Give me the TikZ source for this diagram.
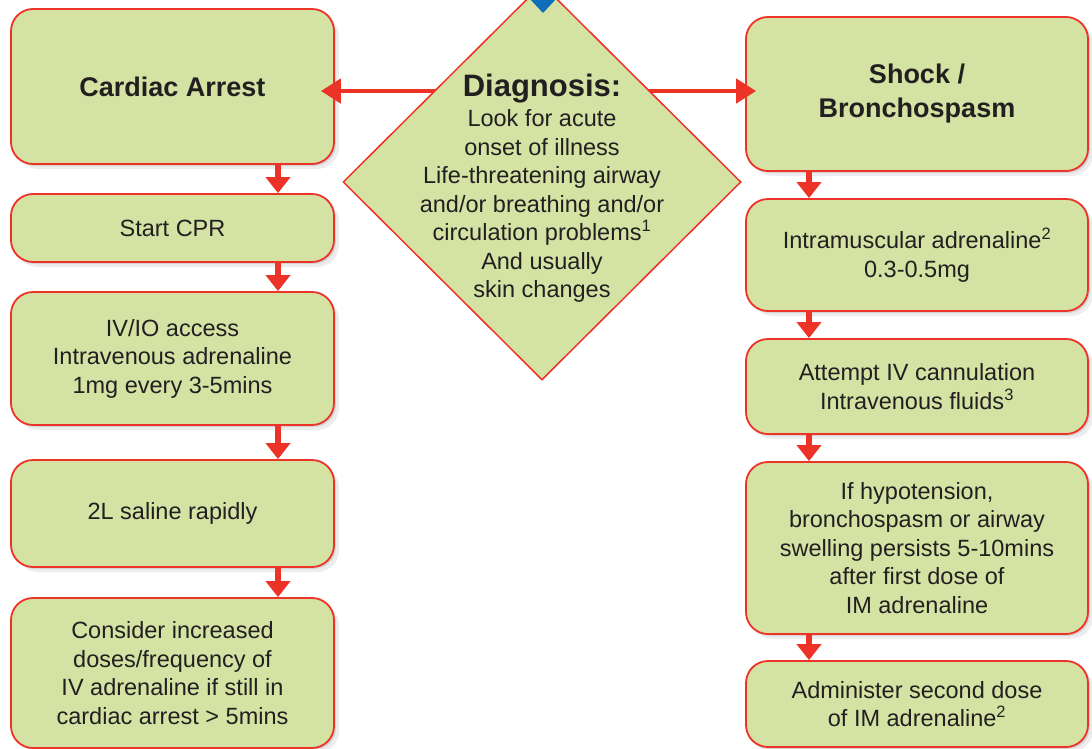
\documentclass[tikz,border=0pt]{standalone}
\usepackage{fontspec}
\setmainfont{Liberation Sans}
\usepackage{tikz}
\usetikzlibrary{shapes.geometric, arrows.meta, shadows}

\definecolor{boxgreen}{RGB}{212,227,164}
\definecolor{boxred}{RGB}{237,50,40}
\definecolor{textgray}{RGB}{35,31,32}
\definecolor{topblue}{RGB}{16,110,184}

\begin{document}
\begin{tikzpicture}[x=1pt, y=-1pt,
  greenbox/.style={draw=boxred, fill=boxgreen, line width=1.8pt,
    rounded corners=22pt, align=center, text=textgray, inner sep=0pt,
    font=\fontsize{23.5}{28.5}\selectfont,
    drop shadow={shadow xshift=2pt, shadow yshift=-2pt, opacity=0.22},
    drop shadow={shadow xshift=5pt, shadow yshift=-5pt, opacity=0.14}},
  leftbox/.style={greenbox, minimum width=323pt},
  rightbox/.style={greenbox, minimum width=342pt},
  headtext/.style={font=\fontsize{27}{34}\selectfont\bfseries},
  redarrow/.style={draw=boxred, line width=5.5pt,
    -{Triangle[length=16pt, width=24pt]}}
]
\clip (0,0) rectangle (1092,749);

% left column: cardiac arrest
\node[leftbox, minimum height=155pt, headtext] (cardiac) at (172.5,86.5) {Cardiac Arrest};
\node[leftbox, minimum height=68pt] (cpr) at (172.5,228) {Start CPR};
\node[leftbox, minimum height=133pt] (ivio) at (172.5,358.5)
  {IV/IO access\\ Intravenous adrenaline\\ 1mg every 3-5mins};
\node[leftbox, minimum height=107pt] (saline) at (172.5,513.5) {2L saline rapidly};
\node[leftbox, minimum height=150pt] (consider) at (172.5,673)
  {Consider increased\\ doses/frequency of\\ IV adrenaline if still in\\ cardiac arrest > 5mins};

% right column: shock
\node[rightbox, minimum height=154pt, headtext] (shock) at (917,94)
  {\raisebox{2pt}{Shock /}\\ \raisebox{2pt}{Bronchospasm}};
\node[rightbox, minimum height=112pt] (imadr) at (917,255)
  {Intramuscular adrenaline\textsuperscript{2}\\ 0.3-0.5mg};
\node[rightbox, minimum height=95pt] (ivcan) at (917,386.5)
  {Attempt IV cannulation\\ Intravenous fluids\textsuperscript{3}};
\node[rightbox, minimum height=172pt] (hypo) at (917,548)
  {If hypotension,\\ bronchospasm or airway\\ swelling persists 5-10mins\\ after first dose of\\ IM adrenaline};
\node[rightbox, minimum height=86pt] (second) at (917,704)
  {Administer second dose\\ of IM adrenaline\textsuperscript{2}};

% downward arrows
\coordinate (leftx) at (278,0);
\coordinate (rightx) at (809,0);
\foreach \a/\b in {cardiac/cpr, cpr/ivio, ivio/saline, saline/consider}
  \draw[redarrow] (\a.south -| leftx) -- (\b.north -| leftx);
\foreach \a/\b in {shock/imadr, imadr/ivcan, ivcan/hypo, hypo/second}
  \draw[redarrow] (\a.south -| rightx) -- (\b.north -| rightx);

% sideways arrows out of the diagnosis
\coordinate (split) at (542,91);
\draw[redarrow, line width=4.5pt, -{Triangle[length=20pt, width=24pt]}, shorten >=-14pt]
  (split) -- (cardiac.east |- split);
\draw[redarrow, line width=4.5pt, -{Triangle[length=20pt, width=24pt]}, shorten >=-11pt]
  (split) -- (shock.west |- split);

% diagnosis diamond
\node[diamond, draw=boxred, fill=boxgreen, line width=1.5pt,
  minimum width=398pt, minimum height=396pt, inner sep=0pt] (diag) at (542,182) {};
\node[align=center, text=textgray, font=\fontsize{23.5}{28.5}\selectfont] (diagtext) at (542,188)
  {{\fontsize{31}{34}\selectfont\bfseries Diagnosis:}\\[2pt]
   Look for acute\\ onset of illness\\ Life-threatening airway\\
   and/or breathing and/or\\ circulation problems\textsuperscript{1}\\
   And usually\\ skin changes};
\fill[topblue] (529,-2) -- (557,-2) -- (543,13) -- cycle;

\end{tikzpicture}
\end{document}
